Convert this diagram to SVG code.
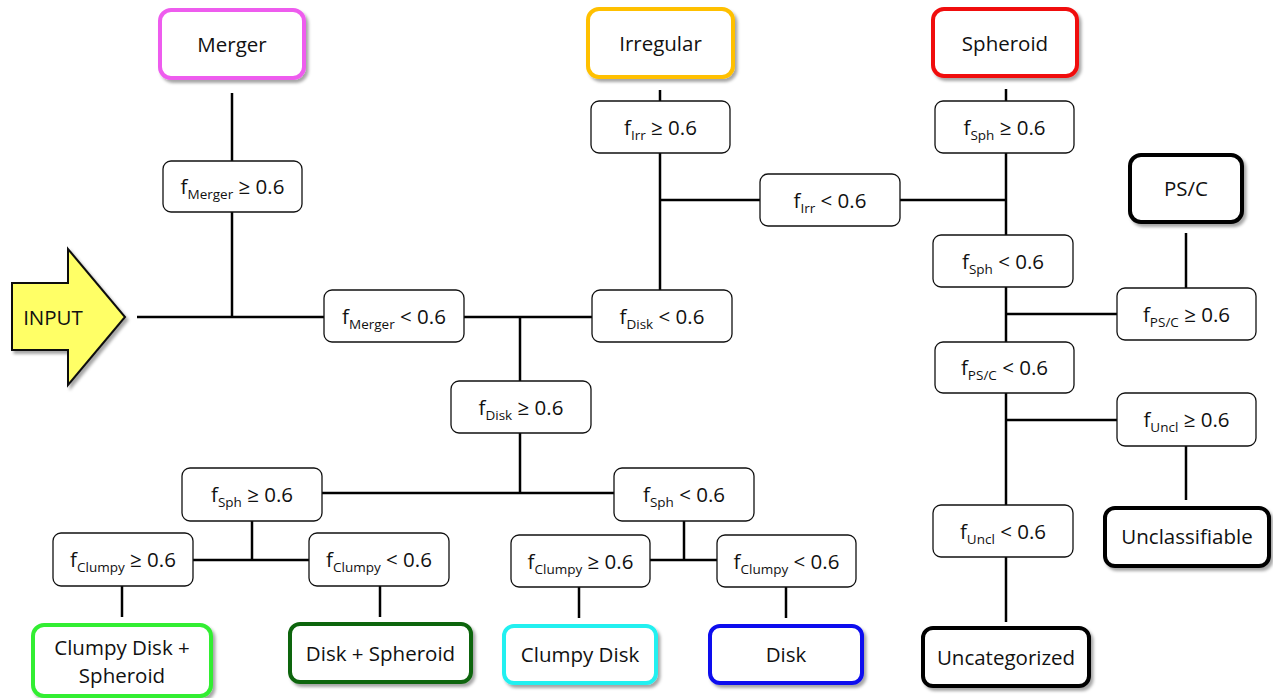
<svg xmlns="http://www.w3.org/2000/svg" width="1273" height="698" viewBox="0 0 1273 698">
<style>
text{font-family:"Open Sans","Liberation Sans",sans-serif;font-size:20.5px;fill:#111;text-anchor:middle}
.sub{font-size:13.5px}
.cond{fill:#fff;stroke:#111;stroke-width:1.3}
.cat{fill:#fff;stroke-width:4;filter:url(#sh)}
#conn line{stroke:#000;stroke-width:2.5}
</style>
<defs>
<filter id="sh" x="-10%" y="-10%" width="130%" height="140%">
<feDropShadow dx="2.5" dy="3" stdDeviation="1.8" flood-color="#000" flood-opacity="0.35"/>
</filter>
</defs>
<rect width="1273" height="698" fill="#fff"/>
<g id="conn">
<line x1="232" y1="93" x2="232" y2="161"/>
<line x1="232" y1="212" x2="232" y2="318"/>
<line x1="137" y1="317" x2="324" y2="317"/>
<line x1="464" y1="317" x2="592" y2="317"/>
<line x1="520" y1="316" x2="520" y2="381"/>
<line x1="520" y1="433" x2="520" y2="494"/>
<line x1="322" y1="493" x2="614" y2="493"/>
<line x1="252" y1="521" x2="252" y2="561"/>
<line x1="193" y1="560" x2="309" y2="560"/>
<line x1="122" y1="586" x2="122" y2="617"/>
<line x1="380" y1="586" x2="380" y2="617"/>
<line x1="684" y1="521" x2="684" y2="561"/>
<line x1="650" y1="560" x2="717" y2="560"/>
<line x1="579" y1="587" x2="579" y2="618"/>
<line x1="786" y1="587" x2="786" y2="618"/>
<line x1="660" y1="90" x2="660" y2="101"/>
<line x1="660" y1="153" x2="660" y2="290"/>
<line x1="660" y1="200" x2="760" y2="200"/>
<line x1="900" y1="200" x2="1006" y2="200"/>
<line x1="1006" y1="89" x2="1006" y2="101"/>
<line x1="1006" y1="153" x2="1006" y2="235"/>
<line x1="1006" y1="287" x2="1006" y2="342"/>
<line x1="1006" y1="314" x2="1117" y2="314"/>
<line x1="1186" y1="233" x2="1186" y2="288"/>
<line x1="1006" y1="393" x2="1006" y2="505"/>
<line x1="1006" y1="420" x2="1117" y2="420"/>
<line x1="1186" y1="446" x2="1186" y2="500"/>
<line x1="1006" y1="557" x2="1006" y2="622"/>
</g>
<g id="input">
<polygon points="12,283 68,283 68,249 125,317 68,385 68,350 12,350" fill="#FFFF66" stroke="#111" stroke-width="2" filter="url(#sh)"/>
<text x="53" y="325">INPUT</text>
</g>
<g id="merger"><rect class="cat" x="160" y="10" width="144" height="68" rx="11" stroke="#EE5CEE"/><text x="232" y="52">Merger</text></g>
<g id="irregular"><rect class="cat" x="588" y="9" width="145" height="68" rx="11" stroke="#FFC000"/><text x="660.5" y="51">Irregular</text></g>
<g id="spheroid"><rect class="cat" x="933" y="9" width="144" height="67" rx="11" stroke="#F01010"/><text x="1005" y="51">Spheroid</text></g>
<g id="psc"><rect class="cat" x="1130" y="155" width="112" height="67" rx="11" stroke="#000"/><text x="1186" y="196">PS/C</text></g>
<g id="unclassifiable"><rect class="cat" x="1105" y="508" width="164" height="58" rx="10" stroke="#000"/><text x="1187" y="544">Unclassifiable</text></g>
<g id="uncategorized"><rect class="cat" x="923" y="628" width="166" height="58" rx="10" stroke="#000"/><text x="1006" y="665">Uncategorized</text></g>
<g id="clumpydisk-spheroid"><rect class="cat" x="33" y="625" width="178" height="71" rx="11" stroke="#33EE33"/><text x="122" y="655">Clumpy Disk +</text><text x="122" y="683">Spheroid</text></g>
<g id="disk-spheroid"><rect class="cat" x="290" y="624" width="181" height="58" rx="10" stroke="#0B650B"/><text x="380.5" y="661">Disk + Spheroid</text></g>
<g id="clumpydisk"><rect class="cat" x="504" y="626" width="152" height="57" rx="10" stroke="#22F0F0"/><text x="580" y="662">Clumpy Disk</text></g>
<g id="disk"><rect class="cat" x="710" y="626" width="152" height="57" rx="10" stroke="#0A0AEE"/><text x="786" y="662">Disk</text></g>
<g id="c-merger-ge"><rect class="cond" x="163" y="161" width="139" height="51" rx="8"/><text x="232.5" y="194">f<tspan class="sub" dy="5">Merger</tspan><tspan dy="-5"> ≥ 0.6</tspan></text></g>
<g id="c-merger-lt"><rect class="cond" x="324" y="290" width="140" height="52" rx="8"/><text x="394" y="324">f<tspan class="sub" dy="5">Merger</tspan><tspan dy="-5"> &lt; 0.6</tspan></text></g>
<g id="c-irr-ge"><rect class="cond" x="591" y="101" width="139" height="52" rx="8"/><text x="660.5" y="135">f<tspan class="sub" dy="5">Irr</tspan><tspan dy="-5"> ≥ 0.6</tspan></text></g>
<g id="c-irr-lt"><rect class="cond" x="760" y="174" width="140" height="52" rx="8"/><text x="830" y="208">f<tspan class="sub" dy="5">Irr</tspan><tspan dy="-5"> &lt; 0.6</tspan></text></g>
<g id="c-disk-lt"><rect class="cond" x="592" y="290" width="140" height="52" rx="8"/><text x="662" y="324">f<tspan class="sub" dy="5">Disk</tspan><tspan dy="-5"> &lt; 0.6</tspan></text></g>
<g id="c-disk-ge"><rect class="cond" x="451" y="381" width="140" height="52" rx="8"/><text x="521" y="415">f<tspan class="sub" dy="5">Disk</tspan><tspan dy="-5"> ≥ 0.6</tspan></text></g>
<g id="c-sph-ge-r"><rect class="cond" x="935" y="101" width="139" height="52" rx="8"/><text x="1004.5" y="135">f<tspan class="sub" dy="5">Sph</tspan><tspan dy="-5"> ≥ 0.6</tspan></text></g>
<g id="c-sph-lt-r"><rect class="cond" x="933" y="235" width="140" height="52" rx="8"/><text x="1003" y="269">f<tspan class="sub" dy="5">Sph</tspan><tspan dy="-5"> &lt; 0.6</tspan></text></g>
<g id="c-psc-ge"><rect class="cond" x="1117" y="288" width="139" height="52" rx="8"/><text x="1186.5" y="322">f<tspan class="sub" dy="5">PS/C</tspan><tspan dy="-5"> ≥ 0.6</tspan></text></g>
<g id="c-psc-lt"><rect class="cond" x="935" y="342" width="139" height="51" rx="8"/><text x="1004.5" y="375">f<tspan class="sub" dy="5">PS/C</tspan><tspan dy="-5"> &lt; 0.6</tspan></text></g>
<g id="c-uncl-ge"><rect class="cond" x="1117" y="393" width="139" height="53" rx="8"/><text x="1186.5" y="427">f<tspan class="sub" dy="5">Uncl</tspan><tspan dy="-5"> ≥ 0.6</tspan></text></g>
<g id="c-uncl-lt"><rect class="cond" x="933" y="505" width="140" height="52" rx="8"/><text x="1003" y="539">f<tspan class="sub" dy="5">Uncl</tspan><tspan dy="-5"> &lt; 0.6</tspan></text></g>
<g id="c-sph-ge-l"><rect class="cond" x="182" y="468" width="140" height="53" rx="8"/><text x="252" y="502">f<tspan class="sub" dy="5">Sph</tspan><tspan dy="-5"> ≥ 0.6</tspan></text></g>
<g id="c-sph-lt-m"><rect class="cond" x="614" y="468" width="140" height="53" rx="8"/><text x="684" y="502">f<tspan class="sub" dy="5">Sph</tspan><tspan dy="-5"> &lt; 0.6</tspan></text></g>
<g id="c-clumpy-ge-1"><rect class="cond" x="53" y="533" width="140" height="53" rx="8"/><text x="123" y="567">f<tspan class="sub" dy="5">Clumpy</tspan><tspan dy="-5"> ≥ 0.6</tspan></text></g>
<g id="c-clumpy-lt-1"><rect class="cond" x="309" y="533" width="140" height="53" rx="8"/><text x="379" y="567">f<tspan class="sub" dy="5">Clumpy</tspan><tspan dy="-5"> &lt; 0.6</tspan></text></g>
<g id="c-clumpy-ge-2"><rect class="cond" x="511" y="535" width="139" height="52" rx="8"/><text x="580.5" y="569">f<tspan class="sub" dy="5">Clumpy</tspan><tspan dy="-5"> ≥ 0.6</tspan></text></g>
<g id="c-clumpy-lt-2"><rect class="cond" x="717" y="535" width="139" height="52" rx="8"/><text x="786.5" y="569">f<tspan class="sub" dy="5">Clumpy</tspan><tspan dy="-5"> &lt; 0.6</tspan></text></g>
</svg>
